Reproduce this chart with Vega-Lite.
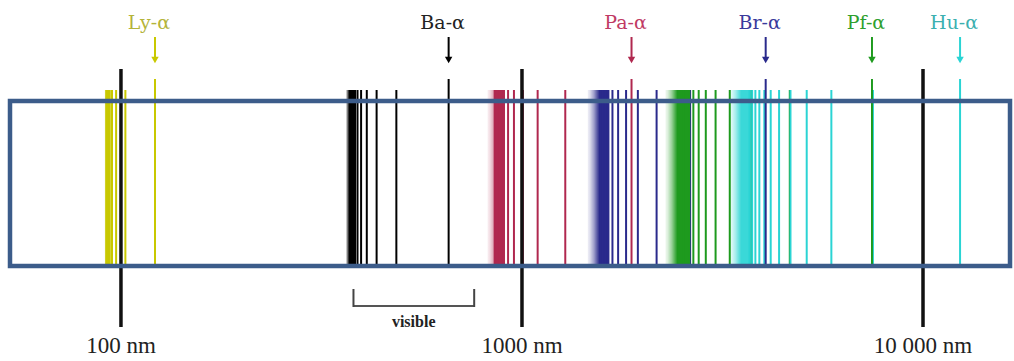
{
  "$schema": "https://vega.github.io/schema/vega-lite/v6.json",
  "width": 1014,
  "height": 361,
  "padding": 0,
  "autosize": {"type": "fit", "contains": "padding"},
  "background": "white",
  "config": {"view": {"stroke": null}},
  "datasets": {
    "series": [
      {"s": "Ly", "label": "Ly-α", "w": 121.57, "lo": 91.18, "mid": 91.8, "hi": 92.3},
      {"s": "Ba", "label": "Ba-α", "w": 656.3, "lo": 364.6, "mid": 371, "hi": 384},
      {"s": "Pa", "label": "Pa-α", "w": 1875.6, "lo": 820.6, "mid": 880, "hi": 905},
      {"s": "Br", "label": "Br-α", "w": 4052.3, "lo": 1458.8, "mid": 1560, "hi": 1650},
      {"s": "Pf", "label": "Pf-α", "w": 7460, "lo": 2279, "mid": 2440, "hi": 2620},
      {"s": "Hu", "label": "Hu-α", "w": 12371, "lo": 3282, "mid": 3520, "hi": 3760}
    ],
    "lines": [
      {"s": "Ly", "w": 102.57}, {"s": "Ly", "w": 97.25}, {"s": "Ly", "w": 94.97}, {"s": "Ly", "w": 93.78},
      {"s": "Ly", "w": 93.08}, {"s": "Ly", "w": 92.62}, {"s": "Ly", "w": 92.32}, {"s": "Ly", "w": 92.1},
      {"s": "Ba", "w": 486.1}, {"s": "Ba", "w": 434.0}, {"s": "Ba", "w": 410.2}, {"s": "Ba", "w": 397.0},
      {"s": "Ba", "w": 388.9}, {"s": "Ba", "w": 383.5}, {"s": "Ba", "w": 379.8}, {"s": "Ba", "w": 377.1},
      {"s": "Ba", "w": 375.0}, {"s": "Ba", "w": 373.4},
      {"s": "Pa", "w": 1282.2}, {"s": "Pa", "w": 1094.1}, {"s": "Pa", "w": 1005.2}, {"s": "Pa", "w": 954.9},
      {"s": "Pa", "w": 923.2}, {"s": "Pa", "w": 901.7}, {"s": "Pa", "w": 886.5}, {"s": "Pa", "w": 875.3},
      {"s": "Pa", "w": 866.7}, {"s": "Pa", "w": 860.1}, {"s": "Pa", "w": 854.8},
      {"s": "Br", "w": 2625.9}, {"s": "Br", "w": 2166.1}, {"s": "Br", "w": 1945.1}, {"s": "Br", "w": 1817.9},
      {"s": "Br", "w": 1736.7}, {"s": "Br", "w": 1681.1}, {"s": "Br", "w": 1641.2}, {"s": "Br", "w": 1611.4},
      {"s": "Br", "w": 1588.5}, {"s": "Br", "w": 1570.5},
      {"s": "Pf", "w": 4653.8}, {"s": "Pf", "w": 3740.6}, {"s": "Pf", "w": 3297.0}, {"s": "Pf", "w": 3039.2},
      {"s": "Pf", "w": 2873.0}, {"s": "Pf", "w": 2758.3}, {"s": "Pf", "w": 2675.1}, {"s": "Pf", "w": 2612.7},
      {"s": "Pf", "w": 2564.3}, {"s": "Pf", "w": 2526.1},
      {"s": "Hu", "w": 7502.4}, {"s": "Hu", "w": 5908.2}, {"s": "Hu", "w": 5128.6}, {"s": "Hu", "w": 4672.3},
      {"s": "Hu", "w": 4376.3}, {"s": "Hu", "w": 4170.7}, {"s": "Hu", "w": 4020.8}, {"s": "Hu", "w": 3907.4},
      {"s": "Hu", "w": 3819.4}, {"s": "Hu", "w": 3749.3}, {"s": "Hu", "w": 3692.5}
    ],
    "ticks": [
      {"w": 100, "label": "100 nm"},
      {"w": 1000, "label": "1000 nm"},
      {"w": 10000, "label": "10 000 nm"}
    ],
    "visible": [{"a": 380, "b": 760, "label": "visible"}]
  },
  "resolve": {"scale": {"color": "independent"}},
  "layer": [
    {
      "data": {"name": "series"},
      "mark": {"type": "rect"},
      "encoding": {
        "x": {"field": "lo", "type": "quantitative", "scale": {"type": "log", "domain": [49.93, 16862], "nice": false, "zero": false}, "axis": null},
        "x2": {"field": "hi"},
        "y": {"datum": 90, "type": "quantitative", "scale": {"domain": [0, 361], "reverse": true, "nice": false, "zero": false}, "axis": null},
        "y2": {"datum": 266},
        "color": {"field": "s", "type": "nominal", "legend": null,
          "scale": {"domain": ["Ly", "Ba", "Pa", "Br", "Pf", "Hu"], "range": ["#c8c800", "#000000", "#b0284f", "#2a2a8c", "#1e9a1e", "#3ad8d8"]}}
      }
    },
    {
      "data": {"name": "series"},
      "mark": {"type": "rect", "xOffset": -2, "fill": {"gradient": "linear", "x1": 0, "y1": 0, "x2": 1, "y2": 0,
        "stops": [{"offset": 0, "color": "rgba(255,255,255,1)"}, {"offset": 0.3, "color": "rgba(255,255,255,0.85)"}, {"offset": 0.6, "color": "rgba(255,255,255,0.55)"}, {"offset": 0.85, "color": "rgba(255,255,255,0.2)"}, {"offset": 1, "color": "rgba(255,255,255,0)"}]}},
      "encoding": {
        "x": {"field": "lo", "type": "quantitative", "scale": {"type": "log", "domain": [49.93, 16862], "nice": false, "zero": false}, "axis": null},
        "x2": {"field": "mid"},
        "y": {"datum": 89, "type": "quantitative", "scale": {"domain": [0, 361], "reverse": true, "nice": false, "zero": false}, "axis": null},
        "y2": {"datum": 267}
      }
    },
    {
      "data": {"name": "lines"},
      "mark": {"type": "rule", "strokeWidth": 2},
      "encoding": {
        "x": {"field": "w", "type": "quantitative", "scale": {"type": "log", "domain": [49.93, 16862], "nice": false, "zero": false}, "axis": null},
        "y": {"datum": 90, "type": "quantitative", "scale": {"domain": [0, 361], "reverse": true, "nice": false, "zero": false}, "axis": null},
        "y2": {"datum": 266},
        "color": {"field": "s", "type": "nominal", "legend": null,
          "scale": {"domain": ["Ly", "Ba", "Pa", "Br", "Pf", "Hu"], "range": ["#c8c800", "#000000", "#b0284f", "#2a2a8c", "#1e9a1e", "#2ad4d4"]}}
      }
    },
    {
      "data": {"name": "series"},
      "mark": {"type": "rule", "strokeWidth": 2},
      "encoding": {
        "x": {"field": "w", "type": "quantitative", "scale": {"type": "log", "domain": [49.93, 16862], "nice": false, "zero": false}, "axis": null},
        "y": {"datum": 79, "type": "quantitative", "scale": {"domain": [0, 361], "reverse": true, "nice": false, "zero": false}, "axis": null},
        "y2": {"datum": 266},
        "color": {"field": "s", "type": "nominal", "legend": null,
          "scale": {"domain": ["Ly", "Ba", "Pa", "Br", "Pf", "Hu"], "range": ["#c8c800", "#000000", "#b0284f", "#2a2a8c", "#1e9a1e", "#2ad4d4"]}}
      }
    },
    {
      "data": {"name": "series"},
      "mark": {"type": "rule", "strokeWidth": 2},
      "encoding": {
        "x": {"field": "w", "type": "quantitative", "scale": {"type": "log", "domain": [49.93, 16862], "nice": false, "zero": false}, "axis": null},
        "y": {"datum": 37, "type": "quantitative", "scale": {"domain": [0, 361], "reverse": true, "nice": false, "zero": false}, "axis": null},
        "y2": {"datum": 58},
        "color": {"field": "s", "type": "nominal", "legend": null,
          "scale": {"domain": ["Ly", "Ba", "Pa", "Br", "Pf", "Hu"], "range": ["#c8c800", "#000000", "#b0284f", "#2a2a8c", "#1e9a1e", "#2ad4d4"]}}
      }
    },
    {
      "data": {"name": "series"},
      "mark": {"type": "point", "shape": "triangle-down", "filled": true, "size": 55, "opacity": 1},
      "encoding": {
        "x": {"field": "w", "type": "quantitative", "scale": {"type": "log", "domain": [49.93, 16862], "nice": false, "zero": false}, "axis": null},
        "y": {"datum": 60, "type": "quantitative", "scale": {"domain": [0, 361], "reverse": true, "nice": false, "zero": false}, "axis": null},
        "color": {"field": "s", "type": "nominal", "legend": null,
          "scale": {"domain": ["Ly", "Ba", "Pa", "Br", "Pf", "Hu"], "range": ["#c8c800", "#000000", "#b0284f", "#2a2a8c", "#1e9a1e", "#2ad4d4"]}}
      }
    },
    {
      "data": {"name": "series"},
      "mark": {"type": "text", "font": "DejaVu Serif", "fontSize": 19, "baseline": "alphabetic", "align": "center", "dx": -6},
      "encoding": {
        "x": {"field": "w", "type": "quantitative", "scale": {"type": "log", "domain": [49.93, 16862], "nice": false, "zero": false}, "axis": null},
        "y": {"datum": 29, "type": "quantitative", "scale": {"domain": [0, 361], "reverse": true, "nice": false, "zero": false}, "axis": null},
        "text": {"field": "label"},
        "color": {"field": "s", "type": "nominal", "legend": null,
          "scale": {"domain": ["Ly", "Ba", "Pa", "Br", "Pf", "Hu"], "range": ["#b4b43a", "#222222", "#c03a64", "#3a3a9c", "#2ea02e", "#3cb0b0"]}}
      }
    },
    {
      "data": {"name": "ticks"},
      "mark": {"type": "rule", "strokeWidth": 3.5, "color": "#111111"},
      "encoding": {
        "x": {"field": "w", "type": "quantitative", "scale": {"type": "log", "domain": [49.93, 16862], "nice": false, "zero": false}, "axis": null},
        "y": {"datum": 69, "type": "quantitative", "scale": {"domain": [0, 361], "reverse": true, "nice": false, "zero": false}, "axis": null},
        "y2": {"datum": 327}
      }
    },
    {
      "data": {"name": "ticks"},
      "mark": {"type": "text", "font": "Liberation Serif", "fontSize": 23, "baseline": "alphabetic", "align": "center", "color": "#222222"},
      "encoding": {
        "x": {"field": "w", "type": "quantitative", "scale": {"type": "log", "domain": [49.93, 16862], "nice": false, "zero": false}, "axis": null},
        "y": {"datum": 353, "type": "quantitative", "scale": {"domain": [0, 361], "reverse": true, "nice": false, "zero": false}, "axis": null},
        "text": {"field": "label"}
      }
    },
    {
      "data": {"name": "visible"},
      "mark": {"type": "rule", "strokeWidth": 2, "color": "#555555"},
      "encoding": {
        "x": {"field": "a", "type": "quantitative", "scale": {"type": "log", "domain": [49.93, 16862], "nice": false, "zero": false}, "axis": null},
        "x2": {"field": "b"},
        "y": {"datum": 306, "type": "quantitative", "scale": {"domain": [0, 361], "reverse": true, "nice": false, "zero": false}, "axis": null}
      }
    },
    {
      "data": {"name": "visible"},
      "mark": {"type": "rule", "strokeWidth": 2, "color": "#444444"},
      "encoding": {
        "x": {"field": "a", "type": "quantitative", "scale": {"type": "log", "domain": [49.93, 16862], "nice": false, "zero": false}, "axis": null},
        "y": {"datum": 289, "type": "quantitative", "scale": {"domain": [0, 361], "reverse": true, "nice": false, "zero": false}, "axis": null},
        "y2": {"datum": 307}
      }
    },
    {
      "data": {"name": "visible"},
      "mark": {"type": "rule", "strokeWidth": 2, "color": "#444444"},
      "encoding": {
        "x": {"field": "b", "type": "quantitative", "scale": {"type": "log", "domain": [49.93, 16862], "nice": false, "zero": false}, "axis": null},
        "y": {"datum": 289, "type": "quantitative", "scale": {"domain": [0, 361], "reverse": true, "nice": false, "zero": false}, "axis": null},
        "y2": {"datum": 307}
      }
    },
    {
      "data": {"name": "visible"},
      "mark": {"type": "text", "font": "Liberation Serif", "fontSize": 16, "fontWeight": 600, "baseline": "alphabetic", "align": "center", "color": "#222222"},
      "encoding": {
        "x": {"datum": 537, "type": "quantitative", "scale": {"type": "log", "domain": [49.93, 16862], "nice": false, "zero": false}, "axis": null},
        "y": {"datum": 327, "type": "quantitative", "scale": {"domain": [0, 361], "reverse": true, "nice": false, "zero": false}, "axis": null},
        "text": {"field": "label"}
      }
    },
    {
      "data": {"values": [{"x1": 52.88, "x2": 16480}]},
      "mark": {"type": "rect", "fill": null, "filled": false, "stroke": "#3c5c8a", "strokeWidth": 4.5},
      "encoding": {
        "x": {"field": "x1", "type": "quantitative", "scale": {"type": "log", "domain": [49.93, 16862], "nice": false, "zero": false}, "axis": null},
        "x2": {"field": "x2"},
        "y": {"datum": 101, "type": "quantitative", "scale": {"domain": [0, 361], "reverse": true, "nice": false, "zero": false}, "axis": null},
        "y2": {"datum": 266}
      }
    }
  ]
}
